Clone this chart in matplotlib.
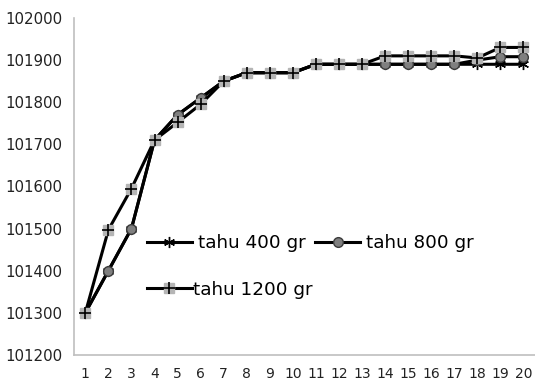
import matplotlib.pyplot as plt
from matplotlib.legend_handler import HandlerTuple

# data
hari = list(range(1, 21))
tahu_400 = [101300, 101400, 101500, 101710, 101770, 101810, 101850, 101870, 101870, 101870,
            101890, 101890, 101890, 101890, 101890, 101890, 101890, 101890, 101890, 101890]
tahu_800 = [101300, 101400, 101500, 101710, 101770, 101810, 101850, 101870, 101870, 101870,
            101890, 101890, 101890, 101890, 101890, 101890, 101890, 101900, 101908, 101908]
tahu_1200 = [101300, 101497, 101595, 101710, 101752, 101795, 101850, 101870, 101870, 101870,
             101890, 101890, 101890, 101910, 101910, 101910, 101910, 101905, 101930, 101930]
label_seri = ['tahu 400 gr', 'tahu 800 gr', 'tahu 1200 gr']

fig = plt.figure(figsize=(5.35, 3.82), dpi=100)
ax = fig.add_axes([0.138, 0.071, 0.862, 0.882])

asterisk = (6, 2, 0)
l1, = ax.plot(hari, tahu_400, color='black', lw=2.2, marker=asterisk, ms=8,
              mec='black', mew=1.0, zorder=3)
l2, = ax.plot(hari, tahu_800, color='black', lw=2.2, marker='o', ms=7,
              mfc='#7f7f7f', mec='#3a3a3a', mew=1.0, zorder=4)
l3, = ax.plot(hari, tahu_1200, color='black', lw=2.2, marker='s', ms=7,
              mfc='#b5b5b5', mec='#b5b5b5', zorder=5)
l3b, = ax.plot(hari, tahu_1200, ls='none', marker='+', ms=8.5, mec='black', mew=1.2, zorder=6)

ax.set_xlim(0.5, 20.5)
ax.set_ylim(101200, 102000)
ax.set_xticks(hari)
ax.set_yticks(range(101200, 102001, 100))
ax.tick_params(length=0, labelsize=10.8, colors='#222222')
ax.tick_params(axis='x', pad=9, labelsize=10)
ax.tick_params(axis='y', pad=8)
for s in ['top', 'right']:
    ax.spines[s].set_visible(False)
for s in ['left', 'bottom']:
    ax.spines[s].set_color('#bfbfbf')
    ax.spines[s].set_linewidth(1.2)

# legend rows like the original: 400, 800 / 1200
leg1 = ax.legend([l1, l2], label_seri[:2], ncol=2, loc='center left',
                 bbox_to_anchor=(0.158, 0.332), frameon=False, fontsize=13.2,
                 handlelength=2.45, handletextpad=0.33, columnspacing=0.55,
                 borderpad=0, borderaxespad=0)
ax.add_artist(leg1)
ax.legend([(l3, l3b)], label_seri[2:], loc='center left',
          bbox_to_anchor=(0.158, 0.193), frameon=False, fontsize=13.2,
          handlelength=2.45, handletextpad=0.1, borderpad=0, borderaxespad=0,
          handler_map={tuple: HandlerTuple(ndivide=1)})

fig.savefig('out.png', dpi=100)
